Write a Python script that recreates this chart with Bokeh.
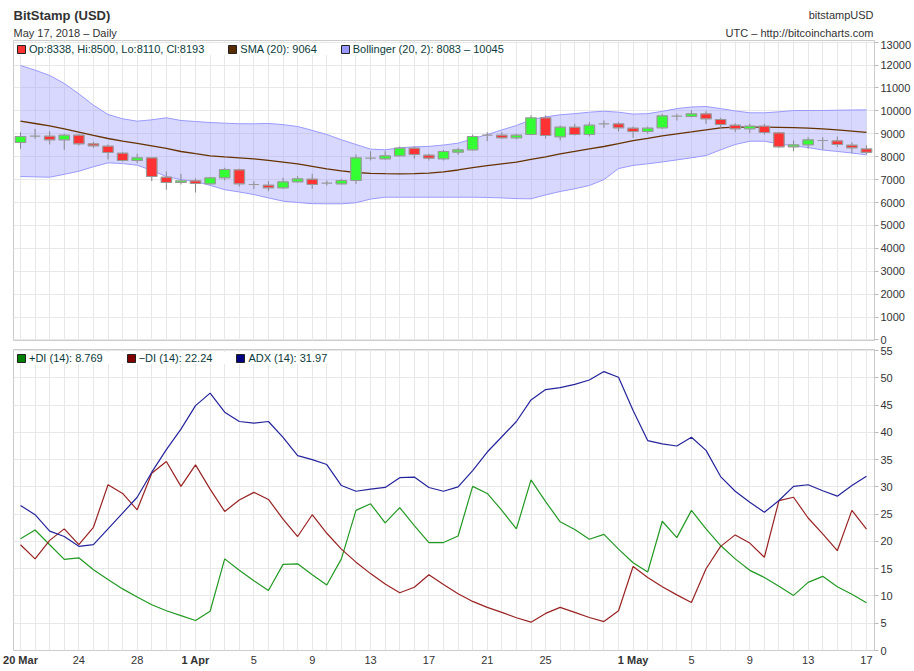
import numpy as np
from bokeh.plotting import figure
from bokeh.models import (ColumnDataSource, FixedTicker, Legend, LegendItem,
                          Range1d, Grid)
from bokeh.core.properties import value
from bokeh.layouts import column, row
from bokeh.embed import file_html
from bokeh.resources import INLINE

# ---------------- data ----------------
tick_idx = [0, 4, 8, 12, 16, 20, 24, 28, 32, 36, 42, 46, 50, 54, 58]
tick_labels = ["20 Mar", "24", "28", "1 Apr", "5", "9", "13", "17", "21", "25",
               "1 May", "5", "9", "13", "17"]
bold_labels = ["20 Mar", "1 Apr", "1 May"]

opens = [8620, 8895, 8895, 8738, 8939, 8563, 8458, 8153, 7834, 7952,
         7105, 6873, 6947, 6816, 7078, 7428, 6786, 6755, 6642, 6903,
         7017, 6843, 6816, 6960, 7935, 7908, 8039, 8371, 8066, 7908,
         8196, 8301, 8939, 8939, 8825, 8969, 9699, 8869, 9288, 8969,
         9436, 9436, 9245, 9100, 9262, 9769, 9756, 9873, 9625, 9375,
         9218, 9332, 9044, 8432, 8520, 8707, 8694, 8502, 8338]
highs = [9070, 9218, 9113, 9000, 9000, 8650, 8533, 8214, 8127, 7978,
         7353, 7253, 7047, 7105, 7515, 7471, 6930, 6930, 7078, 7150,
         7253, 6960, 7035, 8096, 8240, 8240, 8445, 8445, 8127, 8301,
         8388, 8969, 9070, 9070, 9000, 9812, 9799, 9362, 9436, 9506,
         9581, 9506, 9318, 9318, 9873, 9873, 10017, 9987, 9699, 9463,
         9436, 9436, 9044, 8707, 8851, 8851, 8882, 8633, 8500]
lows = [8345, 8782, 8533, 8300, 8490, 8388, 7878, 7777, 7717, 6930,
        6555, 6786, 6437, 6786, 6960, 6700, 6597, 6494, 6597, 6873,
        6597, 6742, 6786, 6816, 7834, 7864, 8009, 7908, 7834, 7834,
        8083, 8271, 8677, 8782, 8764, 8939, 8795, 8707, 8926, 8882,
        9262, 9100, 8825, 9000, 9218, 9581, 9725, 9436, 9218, 9070,
        9026, 8969, 8388, 8240, 8345, 8301, 8417, 8153, 8110]
closes = [8882, 8895, 8738, 8939, 8563, 8476, 8183, 7834, 7952, 7135,
          6873, 6947, 6830, 7078, 7441, 6816, 6786, 6642, 6903, 7035,
          6786, 6843, 6960, 7952, 7935, 8039, 8371, 8096, 7935, 8227,
          8301, 8882, 8939, 8825, 8939, 9699, 8926, 9288, 8969, 9375,
          9436, 9262, 9100, 9245, 9786, 9769, 9873, 9655, 9406, 9218,
          9332, 9057, 8432, 8520, 8738, 8707, 8533, 8388, 8193]
sma20 = [9550, 9450, 9349, 9210, 9070, 8930, 8795, 8677, 8580, 8476,
         8360, 8227, 8130, 8039, 7990, 7950, 7908, 7840, 7765, 7690,
         7580, 7471, 7380, 7310, 7275, 7260, 7253, 7265, 7279, 7340,
         7420, 7520, 7610, 7690, 7760, 7880, 7990, 8126, 8230, 8340,
         8445, 8570, 8700, 8800, 8910, 9000, 9080, 9174, 9260, 9290,
         9295, 9288, 9280, 9270, 9250, 9215, 9170, 9120, 9064]
boll_upper = [11982, 11780, 11546, 11200, 10746, 10250, 9843, 9655, 9550, 9611,
              9699, 9581, 9537, 9490, 9463, 9440, 9436, 9450, 9400, 9318,
              9150, 8969, 8740, 8533, 8330, 8301, 8388, 8430, 8450, 8510,
              8590, 8780, 8969, 9170, 9362, 9611, 9740, 9830, 9880, 9943,
              9987, 9943, 9860, 9880, 9980, 10100, 10170, 10192, 10100, 10000,
              9917, 9917, 9960, 10017, 10017, 10017, 10030, 10040, 10045]
boll_lower = [7135, 7120, 7105, 7230, 7367, 7560, 7733, 7700, 7629, 7400,
              7135, 7000, 6917, 6750, 6560, 6460, 6349, 6200, 6060, 6000,
              5950, 5943, 5943, 5990, 6150, 6231, 6231, 6231, 6231, 6231,
              6231, 6231, 6220, 6200, 6170, 6161, 6330, 6480, 6600, 6742,
              7000, 7480, 7620, 7690, 7770, 7860, 7952, 8052, 8300, 8533,
              8677, 8677, 8563, 8470, 8400, 8290, 8230, 8160, 8083]
plus_di = [20.5, 22.1, 19.4, 16.7, 17.0, 14.8, 13.0, 11.3, 9.8, 8.4,
           7.3, 6.4, 5.5, 7.2, 16.8, 14.7, 12.8, 11.0, 15.8, 15.9,
           13.9, 12.0, 16.8, 25.7, 26.9, 23.4, 26.2, 22.9, 19.8, 19.8,
           21.0, 30.1, 28.8, 25.7, 22.3, 31.3, 27.3, 23.6, 22.2, 20.4,
           21.3, 18.6, 16.1, 14.4, 23.7, 20.7, 25.7, 22.3, 19.25, 16.8,
           14.7, 13.4, 11.8, 10.1, 12.5, 13.6, 11.7, 10.3, 8.769]
minus_di = [19.4, 16.8, 20.2, 22.3, 19.4, 22.6, 30.4, 28.8, 25.8, 32.5,
            34.65, 30.1, 34.05, 29.6, 25.5, 27.6, 29.0, 27.7, 24.1, 20.9,
            24.9, 21.5, 18.6, 16.2, 14.1, 12.2, 10.6, 11.6, 13.9, 12.1,
            10.4, 9.0, 7.9, 7.0, 6.0, 5.2, 6.8, 7.9, 7.0, 6.05,
            5.3, 7.3, 15.4, 13.4, 11.7, 10.2, 8.8, 15.0, 19.1, 21.2,
            19.7, 17.1, 27.5, 28.1, 24.3, 21.4, 18.3, 25.7, 22.24]
adx = [26.6, 24.9, 21.9, 20.9, 19.1, 19.4, 22.3, 25.2, 28.1, 32.7,
       36.85, 40.6, 44.9, 47.2, 43.7, 42.0, 41.7, 42.0, 39.1, 35.75,
       35.0, 34.1, 30.25, 29.2, 29.6, 29.9, 31.7, 31.8, 29.9, 29.2,
       30.0, 33.0, 36.4, 39.2, 42.0, 45.95, 47.85, 48.2, 48.8, 49.6,
       51.15, 50.1, 44.0, 38.5, 37.9, 37.5, 39.1, 36.7, 31.9, 29.2,
       27.2, 25.35, 27.5, 30.1, 30.4, 29.3, 28.3, 30.25, 31.97]

price_ticks = list(range(0, 13001, 1000))
di_ticks = list(range(0, 56, 5))

title_text = "BitStamp (USD)"
subtitle_text = "May 17, 2018 \u2013 Daily"
symbol_text = "bitstampUSD"
source_text = "UTC \u2013 http://bitcoincharts.com"

# ---------------- styling ----------------
FONT = "Liberation Sans"
TXT = "#333333"
LEG_TXT = "#0b3b3b"
GRID = "#e8e8e8"
BORDER = "#cccccc"
UP, DOWN = "#33ff33", "#ff3333"
W = 914
LEFT, RIGHT = 13, 40

n = len(opens)
x = np.arange(n)
o = np.array(opens, float)
c = np.array(closes, float)
src = ColumnDataSource(dict(
    x=x, high=highs, low=lows,
    top=np.maximum(o, c), bottom=np.minimum(o, c),
    color=np.where(c > o, UP, DOWN),
    upper=boll_upper, lower=boll_lower, sma=sma20,
    pdi=plus_di, mdi=minus_di, adx=adx))

xr = Range1d(-0.48, n - 1 + 0.55)


def bare(p):
    p.outline_line_color = None
    p.background_fill_color = "white"
    p.border_fill_color = "white"
    for g in p.grid:
        g.visible = False


def style_panel(p, ticks):
    p.outline_line_color = BORDER
    p.background_fill_color = "white"
    p.border_fill_color = "white"
    ax = p.yaxis[0]
    ax.ticker = FixedTicker(ticks=ticks)
    ax.axis_label = None
    ax.axis_label_standoff = 0
    ax.axis_line_color = BORDER
    ax.major_tick_line_color = "#bbbbbb"
    ax.major_tick_out = 4
    ax.major_tick_in = 0
    ax.minor_tick_line_color = None
    ax.major_label_standoff = 2
    ax.major_label_text_font = FONT
    ax.major_label_text_font_size = "11px"
    ax.major_label_text_color = TXT
    p.ygrid.ticker = FixedTicker(ticks=ticks)
    p.ygrid.grid_line_color = GRID
    p.add_layout(Grid(dimension=0, ticker=FixedTicker(ticks=list(range(n))),
                      grid_line_color=GRID))


def make_legend(p, entries):
    items = []
    for label, fill in entries:
        r = p.quad(left=np.array([np.nan]), right=np.array([np.nan]),
                   top=np.array([np.nan]), bottom=np.array([np.nan]),
                   fill_color=fill, line_color="#222222", line_width=1)
        items.append(LegendItem(label=label, renderers=[r]))
    leg = Legend(items=items, location="top_left", orientation="horizontal",
                 margin=3, padding=5, spacing=23, glyph_width=10, glyph_height=10,
                 label_height=10, label_standoff=3, label_text_font=FONT,
                 label_text_font_size="11px", label_text_color=LEG_TXT,
                 background_fill_color="white", background_fill_alpha=1.0,
                 border_line_color=None)
    p.add_layout(leg)


# ---------------- header strip (frame aligned with the panels) ----------------
p0 = figure(width=W, height=40, x_range=Range1d(LEFT, W - RIGHT), y_range=Range1d(0, 40),
            output_backend="svg", toolbar_location=None,
            x_axis_location=None, y_axis_location=None,
            min_border_left=LEFT, min_border_right=RIGHT, min_border_top=0,
            min_border_bottom=0)
bare(p0)
p0.text(x=[LEFT], y=[25], text=[title_text], text_font=value(FONT),
        text_font_size=value("13px"), text_font_style=value("bold"),
        text_color="#333333", text_align=value("left"),
        text_baseline=value("middle"))
p0.text(x=[LEFT], y=[8], text=[subtitle_text], text_font=value(FONT),
        text_font_size=value("11px"), text_color=TXT, text_align=value("left"),
        text_baseline=value("middle"))
p0.text(x=[W - RIGHT - 1, W - RIGHT - 1], y=[26, 8], text=[symbol_text, source_text],
        text_font=value(FONT), text_font_size=value("11px"), text_color=TXT,
        text_align=value("right"), text_baseline=value("middle"))

# ---------------- top panel: price ----------------
p1 = figure(width=W, height=305, x_range=xr, y_range=Range1d(-26, 13074),
            output_backend="svg", toolbar_location=None,
            x_axis_location=None, y_axis_location="right",
            min_border_left=LEFT, min_border_right=RIGHT, min_border_top=0,
            min_border_bottom=5)
style_panel(p1, price_ticks)

p1.varea(x="x", y1="lower", y2="upper", source=src, fill_color="#9999ff",
         fill_alpha=0.38)
p1.line(x="x", y="upper", source=src, line_color="#9999ff", line_width=1)
p1.line(x="x", y="lower", source=src, line_color="#9999ff", line_width=1)
p1.line(x="x", y="sma", source=src, line_color="#663300", line_width=1.3)
p1.segment(x0="x", y0="low", x1="x", y1="high", source=src,
           line_color="#888888", line_width=1)
p1.vbar(x="x", width=0.72, top="top", bottom="bottom", source=src,
        fill_color="color", line_color="#999999", line_width=1.2)

make_legend(p1, [
    (f"Op:{opens[-1]}, Hi:{highs[-1]}, Lo:{lows[-1]}, Cl:{closes[-1]}", "#ff3333"),
    (f"SMA (20): {sma20[-1]}", "#5a2d00"),
    (f"Bollinger (20, 2): {boll_lower[-1]} \u2013 {boll_upper[-1]}", "#9999ff"),
])

# ---------------- bottom panel: DMI / ADX ----------------
p2 = figure(width=W, height=310, x_range=xr, y_range=Range1d(0, 55.2),
            output_backend="svg", toolbar_location=None,
            x_axis_location=None, y_axis_location="right",
            min_border_left=LEFT, min_border_right=RIGHT, min_border_top=4,
            min_border_bottom=5)
style_panel(p2, di_ticks)

p2.line(x="x", y="pdi", source=src, line_color="#229922", line_width=1.2)
p2.line(x="x", y="mdi", source=src, line_color="#992222", line_width=1.2)
p2.line(x="x", y="adx", source=src, line_color="#24249c", line_width=1.2)

make_legend(p2, [
    (f"+DI (14): {plus_di[-1]}", "#008000"),
    (f"\u2212DI (14): {minus_di[-1]}", "#800000"),
    (f"ADX (14): {adx[-1]}", "#000080"),
])

# ---------------- date labels strip (same x scale, full-width frame) ----------------
scale = (W - LEFT - RIGHT) / (xr.end - xr.start)
p3 = figure(width=W, height=16,
            x_range=Range1d(xr.start - LEFT / scale, xr.end + RIGHT / scale),
            y_range=Range1d(0, 16),
            output_backend="svg", toolbar_location=None,
            x_axis_location=None, y_axis_location=None,
            min_border_left=0, min_border_right=0, min_border_top=0,
            min_border_bottom=0)
bare(p3)
reg = ColumnDataSource(dict(
    x=[i for i, l in zip(tick_idx, tick_labels) if l not in bold_labels],
    y=[12] * sum(1 for l in tick_labels if l not in bold_labels),
    t=[l for l in tick_labels if l not in bold_labels]))
bld = ColumnDataSource(dict(
    x=[i for i, l in zip(tick_idx, tick_labels) if l in bold_labels],
    y=[12] * sum(1 for l in tick_labels if l in bold_labels),
    t=[l for l in tick_labels if l in bold_labels]))
p3.text(x="x", y="y", text="t", source=reg, text_font=value(FONT),
        text_font_size=value("11px"), text_color=TXT, text_align=value("center"),
        text_baseline=value("middle"))
p3.text(x="x", y="y", text="t", source=bld, text_font=value(FONT),
        text_font_size=value("11px"), text_font_style=value("bold"),
        text_color=TXT, text_align=value("center"), text_baseline=value("middle"))

layout = column(p0, p1, p2, row(p3), spacing=0)
open("out.html", "w").write(file_html(layout, INLINE))
